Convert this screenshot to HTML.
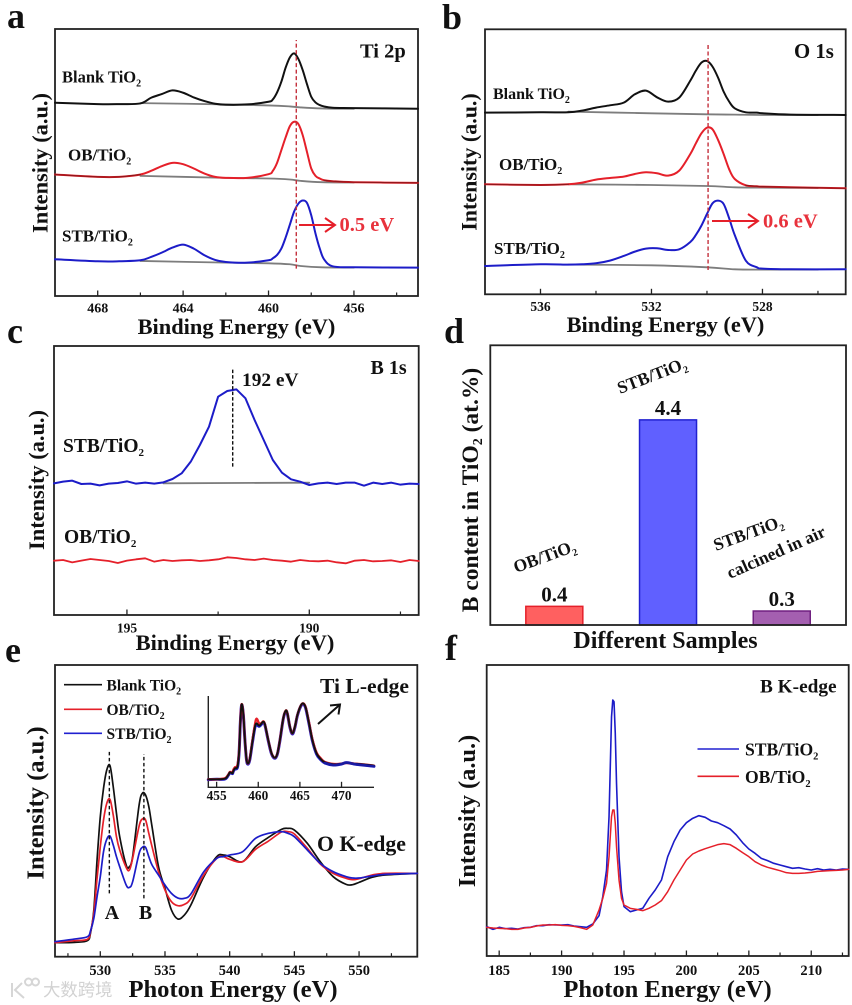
<!DOCTYPE html>
<html lang="en">
<head>
<meta charset="utf-8">
<title>Spectroscopy figure panels a-f</title>
<style>
html,body{margin:0;padding:0;background:#fff;width:852px;height:1005px;overflow:hidden}
svg{display:block;filter:blur(0.35px)}
text{font-family:"Liberation Serif","Noto Serif CJK SC",serif;font-weight:bold;fill:#111}
.wm{font-family:"Liberation Sans","Noto Sans CJK SC",sans-serif;font-weight:normal;fill:#d2d2d2}
</style>
</head>
<body>
<svg id="fig" xmlns="http://www.w3.org/2000/svg" width="852" height="1005" viewBox="0 0 852 1005">
<rect x="0" y="0" width="852" height="1005" fill="#fff"/>

<!-- panel letters -->
<text x="7" y="28" font-size="36">a</text>
<text x="442" y="29" font-size="36">b</text>
<text x="7" y="343" font-size="36">c</text>
<text x="444" y="343" font-size="36">d</text>
<text x="5" y="662" font-size="36">e</text>
<text x="445" y="660" font-size="36">f</text>

<!-- panel a -->
<g id="panel-a"></g>
<text transform="translate(47.5,163) rotate(-90)" text-anchor="middle" font-size="22.4">Intensity (a.u.)</text>
<text x="236.5" y="334" text-anchor="middle" font-size="22.4">Binding Energy (eV)</text>
<text x="360" y="57.5" font-size="20.5">Ti 2p</text>
<text x="62" y="82.5" font-size="16.5">Blank TiO<tspan dy="4" font-size="10">2</tspan></text>
<text x="68" y="160.5" font-size="17">OB/TiO<tspan dy="4" font-size="10">2</tspan></text>
<text x="62" y="241.5" font-size="17">STB/TiO<tspan dy="4" font-size="10">2</tspan></text>
<g fill="none" stroke="#e5202a" stroke-width="2"><path d="M299 225H335"/><path d="M325 218L335 225L325 232"/></g>
<text x="339.5" y="231" font-size="20.5" style="fill:#e8323c">0.5 eV</text>

<!-- panel b -->
<g id="panel-b"></g>
<text transform="translate(476.5,162) rotate(-90)" text-anchor="middle" font-size="22">Intensity (a.u.)</text>
<text x="665.5" y="332" text-anchor="middle" font-size="22.4">Binding Energy (eV)</text>
<text x="794" y="58" font-size="20.8">O 1s</text>
<text x="493" y="99" font-size="16">Blank TiO<tspan dy="4" font-size="10">2</tspan></text>
<text x="499" y="170" font-size="17">OB/TiO<tspan dy="4" font-size="10">2</tspan></text>
<text x="494" y="254" font-size="17">STB/TiO<tspan dy="4" font-size="10">2</tspan></text>
<g fill="none" stroke="#e5202a" stroke-width="2"><path d="M712 221H758"/><path d="M748 214L758 221L748 228"/></g>
<text x="763" y="227.5" font-size="20.5" style="fill:#e8323c">0.6 eV</text>

<!-- panel c -->
<g id="panel-c"></g>
<text transform="translate(44,480) rotate(-90)" text-anchor="middle" font-size="22.4">Intensity (a.u.)</text>
<text x="235" y="650" text-anchor="middle" font-size="22.5">Binding Energy (eV)</text>
<text x="370.5" y="374" font-size="20">B 1s</text>
<text x="242" y="386" font-size="19.4">192 eV</text>
<text x="63" y="452" font-size="19.5">STB/TiO<tspan dy="4" font-size="11">2</tspan></text>
<text x="64" y="543" font-size="19.5">OB/TiO<tspan dy="4" font-size="11">2</tspan></text>

<!-- panel d -->
<g id="panel-d"></g>
<text transform="translate(478,490) rotate(-90)" text-anchor="middle" font-size="23.5">B content in TiO<tspan dy="4" font-size="14">2</tspan><tspan dy="-4"> (at.%)</tspan></text>
<text x="665.5" y="648" text-anchor="middle" font-size="24">Different Samples</text>
<text transform="translate(516,573) rotate(-20)" font-size="17.5">OB/TiO<tspan dy="4" font-size="10">2</tspan></text>
<text transform="translate(620,394) rotate(-21)" font-size="17.5">STB/TiO<tspan dy="4" font-size="10">2</tspan></text>
<text transform="translate(716,551) rotate(-20)" font-size="17.5">STB/TiO<tspan dy="4" font-size="10">2</tspan></text>
<text transform="translate(730,579) rotate(-24)" font-size="17.5">calcined in air</text>

<!-- panel e -->
<g id="panel-e"></g>
<text transform="translate(43.5,803) rotate(-90)" text-anchor="middle" font-size="24.5">Intensity (a.u.)</text>
<text x="233" y="997" text-anchor="middle" font-size="24.6">Photon Energy (eV)</text>
<text x="320" y="693" font-size="21.6">Ti L-edge</text>
<text x="317" y="851" font-size="21.8">O K-edge</text>
<text x="112" y="919" text-anchor="middle" font-size="20">A</text>
<text x="145.5" y="919" text-anchor="middle" font-size="20">B</text>
<g>
<line x1="64" x2="102" y1="684.7" y2="684.7" stroke="#111" stroke-width="1.6"/>
<line x1="64" x2="102" y1="709.3" y2="709.3" stroke="#e5202a" stroke-width="1.6"/>
<line x1="64" x2="102" y1="733.3" y2="733.3" stroke="#2020d0" stroke-width="1.6"/>
<text x="106.5" y="690.5" font-size="15.5">Blank TiO<tspan dy="4" font-size="10">2</tspan></text>
<text x="106.5" y="715" font-size="15.5">OB/TiO<tspan dy="4" font-size="10">2</tspan></text>
<text x="106.5" y="739" font-size="15.5">STB/TiO<tspan dy="4" font-size="10">2</tspan></text>
</g>
<g fill="none" stroke="#111" stroke-width="2"><path d="M318 724L340 704.5"/><path d="M330 705.5L340 704.5L338.5 714.5"/></g>

<!-- panel f -->
<g id="panel-f"></g>
<text transform="translate(475,811) rotate(-90)" text-anchor="middle" font-size="24.4">Intensity (a.u.)</text>
<text x="667.5" y="997" text-anchor="middle" font-size="24.5">Photon Energy (eV)</text>
<text x="760" y="692.5" font-size="19.3">B K-edge</text>
<g>
<line x1="697.5" x2="739" y1="749" y2="749" stroke="#2020d0" stroke-width="1.6"/>
<line x1="697.5" x2="739" y1="776.3" y2="776.3" stroke="#e5202a" stroke-width="1.6"/>
<text x="745" y="755.5" font-size="17.6">STB/TiO<tspan dy="4" font-size="10.5">2</tspan></text>
<text x="745" y="783" font-size="17.6">OB/TiO<tspan dy="4" font-size="10.5">2</tspan></text>
</g>

<!-- watermark -->
<g fill="none" stroke="#d6d6d6" stroke-width="2">
<path d="M12 983V997M22 983L15 990L24 998M25 982a3.5 3.5 0 1 0 7 0a3.5 3.5 0 1 0 -7 0M32 982a3.5 3.5 0 1 0 7 0a3.5 3.5 0 1 0 -7 0"/>
<text class="wm" x="43" y="996" font-size="17.4" stroke="none">大数跨境</text>
</g>
</svg>

<script>
// ---------- panel a: Ti 2p ----------
const aEnergy = [470,468,467,466,465.5,465,464.5,464,463.5,463,462.5,462,461,460,459.8,459.6,459.4,459.2,459,458.8,458.6,458.4,458.2,458,457.8,457.6,457.4,457,456,453];
const aBlank = [579,575,575,577,594,605,616,609,595,584,576,573,574,582,589,610,642,684,715,727,710,677,635,597,580,572,568,564,563,561];
const aOB = [364,357,357,364,375,389,399,395,382,367,357,354,354,365,375,399,437,475,509,522,515,482,432,382,360,352,347,344,341,339];
const aSTB = [110,104,104,107,117,130,145,154,142,122,108,102,100,107,113,123,142,175,214,253,277,286,279,242,187,142,110,89,86,85];
const aBaseEnergy = [466,462,460,459,458.5,457.5,456];
const aBaseBlank = [578,574,571,568,565,562,561];
const aBaseOB = [360,354,352,349,345,341,340];
const aBaseSTB = [105,100,98,95,90,86,85];
const aMajorTicks = [468,464,460,456];
const aMinorTicks = [466,462,458,454];
const aGuideEnergy = [458.7];
const aGuideRange = [82,767];

// ---------- panel b: O 1s ----------
const bEnergy = [538,536,535,534.5,534,533.5,533,532.6,532.2,531.8,531.4,531,530.6,530.4,530.2,530,529.8,529.6,529.4,529.2,529,528.6,528.2,528,527,525];
const bBlank = [545,546,546,551,560,567,575,600,611,591,578,590,641,671,695,700,683,650,608,578,558,546,545,543,539,538];
const bOB = [330,328,330,335,344,349,353,361,366,363,356,371,421,453,483,500,495,463,421,375,346,327,324,323,321,318];
const bSTB = [85,90,89,90,93,101,115,128,137,138,133,135,157,178,206,241,273,281,271,228,178,101,81,77,75,75];
const bBaseEnergy = [535,532,530,529,528,526];
const bBaseBlank = [548,543,540,539,538,538];
const bBaseOB = [330,328,325,321,320,319];
const bBaseSTB = [89,87,81,75,74,74];
const bMajorTicks = [536,532,528];
const bMinorTicks = [534,530,526];
const bGuideEnergy = [529.96];
const bGuideRange = [73,748];

// ---------- panel c: B 1s ----------
const cEnergy = [197,196.75,196.5,196.25,196,195.75,195.5,195.25,195,194.75,194.5,194.25,194,193.75,193.5,193.25,193,192.75,192.5,192.25,192,191.75,191.5,191.25,191,190.75,190.5,190.25,190,189.75,189.5,189.25,189,188.75,188.5,188.25,188,187.75,187.5,187.25,187];
const cSTB = [395,400,403,393,394,389,394,396,401,394,397,394,398,408,425,460,510,565,655,672,677,650,585,525,465,427,407,400,390,395,397,393,397,397,388,397,393,397,391,394,393];
const cOB = [163,165,158,163,168,165,162,156,163,167,170,160,165,162,164,165,162,164,167,173,171,167,165,169,165,163,160,165,162,161,163,158,155,163,165,161,162,164,159,165,162];
const cBaseEnergy = [194,190];
const cBaseSTB = [395,397];
const cMajorTicks = [195,190];
const cMinorTicks = [192.5,187.5];
const cGuideEnergy = [192.1];
const cGuideRange = [445,737];

// ---------- panel d: boron content ----------
const dCategories = ['OB/TiO2','STB/TiO2','STB/TiO2 calcined in air'];
const dValues = [0.4,4.4,0.3];
const dValueLabels = ['0.4','4.4','0.3'];

// ---------- panel e: O K-edge ----------
const eEnergy = [526.5,528,529,529.25,529.5,529.75,530,530.25,530.5,530.75,531,531.25,531.5,532,532.25,532.5,533,533.25,533.5,533.75,534,534.5,535,535.5,536,536.5,537,538,539,539.5,540,541,542,543,544,544.5,545,546,547,548,549,549.5,550,551,552,554.5];
const eBlank = [42,43,48,72,140,290,420,505,560,573,510,430,360,275,270,300,455,490,485,450,390,270,205,140,113,125,155,240,300,305,300,285,330,358,382,385,380,340,285,240,217,216,223,238,245,250];
const eOB = [42,48,52,76,130,235,330,410,460,472,425,360,320,268,260,295,392,413,410,370,330,255,200,165,153,157,175,245,295,300,292,285,322,347,374,375,368,325,278,250,235,231,234,245,250,250];
const eSTB = [45,53,60,78,115,180,240,315,352,362,335,300,270,215,208,225,310,328,328,300,275,245,215,190,176,175,188,255,295,300,305,315,355,370,375,370,360,320,280,255,240,236,236,242,247,250];
const eMajorTicks = [530,535,540,545,550];
const eMinorTicks = [527.5,532.5,537.5,542.5,547.5,552.5];
const eGuideEnergyA = [530.7];
const eGuideRangeA = [190,620];
const eGuideEnergyB = [533.37];
const eGuideRangeB = [175,608];

// ---------- panel e inset: Ti L-edge ----------
const iEnergy = [454,455,456,456.4,456.6,456.9,457,457.2,457.5,457.7,457.85,458,458.2,458.4,458.6,458.8,459,459.3,459.6,459.8,460.1,460.4,460.6,460.8,461.2,461.6,462,462.3,462.6,463,463.3,463.5,463.8,464.1,464.4,464.7,465.1,465.4,465.7,466.1,466.5,467,467.5,468,469,470,470.6,471.5,472.5,473.9];
const iBlank = [24,24,26,37,45,42,49,57,62,107,197,249,222,142,82,72,87,137,182,192,185,192,197,189,142,102,89,102,142,207,230,222,182,162,182,217,245,252,239,192,142,102,85,75,69,71,73,71,69,65];
const iOB = [24,24,27,38,46,44,52,60,66,109,198,249,222,142,82,72,88,140,188,206,192,193,198,189,142,102,89,102,142,207,230,222,182,162,182,217,245,252,240,194,144,104,87,76,70,71,73,71,69,65];
const iSTB = [23,24,25,36,44,41,48,55,60,105,195,247,220,140,80,70,85,135,180,188,183,190,195,187,140,100,87,100,140,205,228,220,180,160,180,215,243,250,237,190,140,100,83,73,67,70,74,70,67,63];
const iMajorTicks = [455,460,465,470];

// ---------- panel f: B K-edge ----------
const fEnergy = [184,184.5,185,185.5,186,186.5,187,187.5,188,188.5,189,189.5,190,190.5,191,191.5,192,192.5,193,193.3,193.6,193.8,194,194.1,194.2,194.3,194.4,194.6,194.8,195,195.5,196,196.5,197,197.5,198,198.5,199,199.5,200,200.5,201,201.5,202,202.5,203,203.5,204,204.5,205,205.5,206,206.5,207,207.5,208,208.5,209,209.5,210,210.5,211,211.5,212,212.5,213];
const fSTB = [88,80,86,82,83,81,85,86,91,91,94,93,93,94,90,88,86,96,121,178,258,418,718,768,763,668,518,298,193,148,133,138,143,173,198,228,298,343,378,400,413,421,416,405,400,391,381,363,340,321,308,293,286,278,273,268,263,265,261,258,262,258,260,258,261,260];
const fOB = [86,84,83,82,80,80,84,86,90,93,93,94,92,91,89,85,80,93,138,173,218,298,418,438,438,398,328,228,173,153,143,140,136,143,153,166,193,228,258,288,306,315,322,328,334,337,334,323,310,298,283,273,266,261,256,250,248,248,249,251,254,255,256,257,258,260];
const fMajorTicks = [185,190,195,200,205,210];
const fMinorTicks = [187.5,192.5,197.5,202.5,207.5,212.5];

// ---------- colours ----------
const BLACK = '#111111', RED = '#e5202a', BLUE = '#1c1cc8', GRAY = '#7d7d7d', FRAME = '#222222';
const SVGNS = 'http://www.w3.org/2000/svg';

function node(parent, tag, attrs, name) {
  const el = document.createElementNS(SVGNS, tag);
  for (const k in attrs) el.setAttribute(k, attrs[k]);
  
  
  parent.appendChild(el);
  return el;
}
function xScale(p, v) { return p.x0 + (v - p.dom[0]) / (p.dom[1] - p.dom[0]) * (p.x1 - p.x0); }
function yScale(p, v) { return p.y1 - v / p.ymax * (p.y1 - p.y0); }

function curve(p, group, xs, ys, color, width, name, smooth, opacity) {
  const pts = xs.map((x, i) => [xScale(p, x), yScale(p, ys[i])]);
  let d = 'M' + pts[0][0].toFixed(2) + ' ' + pts[0][1].toFixed(2);
  for (let i = 0; i < pts.length - 1; i++) {
    if (smooth) {
      const a = pts[Math.max(i - 1, 0)], b = pts[i], c = pts[i + 1], e = pts[Math.min(i + 2, pts.length - 1)];
      const c1x = b[0] + (c[0] - a[0]) / 6, c1y = b[1] + (c[1] - a[1]) / 6;
      const c2x = c[0] - (e[0] - b[0]) / 6, c2y = c[1] - (e[1] - b[1]) / 6;
      d += 'C' + c1x.toFixed(2) + ' ' + c1y.toFixed(2) + ' ' + c2x.toFixed(2) + ' ' + c2y.toFixed(2) + ' ' + c[0].toFixed(2) + ' ' + c[1].toFixed(2);
    } else {
      d += 'L' + pts[i + 1][0].toFixed(2) + ' ' + pts[i + 1][1].toFixed(2);
    }
  }
  const attrs = {d: d, fill: 'none', stroke: color, 'stroke-width': width, 'stroke-linejoin': 'round', 'stroke-linecap': 'round'};
  if (opacity) attrs['stroke-opacity'] = opacity;
  return node(group, 'path', attrs, name);
}
function frame(p, group, name) {
  node(group, 'rect', {x: p.x0, y: p.y0, width: p.x1 - p.x0, height: p.y1 - p.y0, fill: 'none', stroke: FRAME, 'stroke-width': 1.8}, name);
}
function ticks(p, group, major, minor, labelY, fontSize, prefix) {
  major.forEach(v => {
    const x = xScale(p, v);
    node(group, 'line', {x1: x, x2: x, y1: p.y1, y2: p.y1 - 5.5, stroke: FRAME, 'stroke-width': 1.3}, prefix + '-major-tick');
    const t = node(group, 'text', {x: x, y: labelY, 'text-anchor': 'middle', 'font-size': fontSize}, prefix + '-tick-label');
    t.textContent = String(v);
  });
  minor.forEach(v => {
    const x = xScale(p, v);
    node(group, 'line', {x1: x, x2: x, y1: p.y1, y2: p.y1 - 3.5, stroke: FRAME, 'stroke-width': 1.2}, prefix + '-minor-tick');
  });
}
function guide(p, group, energy, range, color, name, dash) {
  const x = xScale(p, energy[0]);
  node(group, 'line', {x1: x, x2: x, y1: yScale(p, range[0]), y2: yScale(p, range[1]), stroke: color, 'stroke-width': 1.4, 'stroke-dasharray': dash}, name);
}

// panel a
const pa = {x0: 55, x1: 418, y0: 29, y1: 296, dom: [470, 453], ymax: 800};
const ga = document.getElementById('panel-a');
frame(pa, ga, 'a-frame');
ticks(pa, ga, aMajorTicks, aMinorTicks, 312.5, 14, 'a');
curve(pa, ga, aBaseEnergy, aBaseBlank, GRAY, 1.8, 'a-baseline-blank', true);
curve(pa, ga, aBaseEnergy, aBaseOB, GRAY, 1.8, 'a-baseline-ob', true);
curve(pa, ga, aBaseEnergy, aBaseSTB, GRAY, 1.8, 'a-baseline-stb', true);
curve(pa, ga, aEnergy, aBlank, BLACK, 2, 'a-series-blank', true);
curve(pa, ga, aEnergy, aOB, RED, 2, 'a-series-ob', true);
curve(pa, ga, aEnergy, aSTB, BLUE, 2, 'a-series-stb', true);
curve(pa, ga, aEnergy.slice(0, 4), aOB.slice(0, 4), '#5a1010', 1.2, 'a-tail-ob-left', true, 0.6);
curve(pa, ga, aEnergy.slice(-4), aOB.slice(-4), '#5a1010', 1.2, 'a-tail-ob-right', true, 0.6);
guide(pa, ga, aGuideEnergy, aGuideRange, '#c4303c', 'a-guide-line', '4 2.5');

// panel b
const pb = {x0: 485, x1: 845.7, y0: 29.3, y1: 294.3, dom: [538, 525], ymax: 795};
const gb = document.getElementById('panel-b');
frame(pb, gb, 'b-frame');
ticks(pb, gb, bMajorTicks, bMinorTicks, 311, 13.5, 'b');
curve(pb, gb, bBaseEnergy, bBaseBlank, GRAY, 1.8, 'b-baseline-blank', true);
curve(pb, gb, bBaseEnergy, bBaseOB, GRAY, 1.8, 'b-baseline-ob', true);
curve(pb, gb, bBaseEnergy, bBaseSTB, GRAY, 1.8, 'b-baseline-stb', true);
curve(pb, gb, bEnergy, bBlank, BLACK, 2, 'b-series-blank', true);
curve(pb, gb, bEnergy, bOB, RED, 2, 'b-series-ob', true);
curve(pb, gb, bEnergy, bSTB, BLUE, 2, 'b-series-stb', true);
curve(pb, gb, bEnergy.slice(0, 3), bOB.slice(0, 3), '#5a1010', 1.2, 'b-tail-ob-left', true, 0.6);
curve(pb, gb, bEnergy.slice(-5), bOB.slice(-5), '#5a1010', 1.2, 'b-tail-ob-right', true, 0.6);
guide(pb, gb, bGuideEnergy, bGuideRange, '#c4303c', 'b-guide-line', '4 2.5');

// panel c
const pc = {x0: 54, x1: 418.7, y0: 346, y1: 615, dom: [197, 187], ymax: 807};
const gc = document.getElementById('panel-c');
frame(pc, gc, 'c-frame');
ticks(pc, gc, cMajorTicks, cMinorTicks, 632.5, 13.5, 'c');
curve(pc, gc, cBaseEnergy, cBaseSTB, GRAY, 1.8, 'c-baseline-stb', false);
curve(pc, gc, cEnergy, cSTB, BLUE, 2, 'c-series-stb', false);
curve(pc, gc, cEnergy, cOB, RED, 1.8, 'c-series-ob', false);
guide(pc, gc, cGuideEnergy, cGuideRange, '#111', 'c-guide-line', '3.5 2');

// panel d
const pd = {x0: 490.3, x1: 846, y0: 345.3, y1: 625, dom: [-0.563, 2.565], ymax: 6};
const gd = document.getElementById('panel-d');
const dFill = ['#ff6060', '#6060ff', '#a45fb0'];
const dStroke = ['#e5202a', '#2020d0', '#702080'];
dValues.forEach((v, i) => {
  const cx = xScale(pd, i);
  const top = yScale(pd, v);
  const bar = document.createElementNS(SVGNS, 'rect');
  bar.setAttribute('x', cx - 28.5);
  bar.setAttribute('y', top);
  bar.setAttribute('width', 57);
  bar.setAttribute('height', pd.y1 - top);
  bar.setAttribute('fill', dFill[i]);
  bar.setAttribute('stroke', dStroke[i]);
  bar.setAttribute('stroke-width', 1.5);
  
  
  gd.appendChild(bar);
  const t = document.createElementNS(SVGNS, 'text');
  t.setAttribute('x', cx);
  t.setAttribute('y', top - 4.8);
  t.setAttribute('text-anchor', 'middle');
  t.setAttribute('font-size', 21);
  
  
  t.textContent = dValueLabels[i];
  gd.appendChild(t);
});
frame(pd, gd, 'd-frame');

// panel e
const pe = {x0: 55, x1: 417.3, y0: 665, y1: 956.7, dom: [526.5, 554.5], ymax: 875};
const ge = document.getElementById('panel-e');
frame(pe, ge, 'e-frame');
ticks(pe, ge, eMajorTicks, eMinorTicks, 975, 14.5, 'e');
curve(pe, ge, eEnergy, eBlank, BLACK, 1.7, 'e-series-blank', true);
curve(pe, ge, eEnergy, eOB, RED, 1.7, 'e-series-ob', true);
curve(pe, ge, eEnergy, eSTB, BLUE, 1.7, 'e-series-stb', true);
guide(pe, ge, eGuideEnergyA, eGuideRangeA, '#111', 'e-guide-a', '3.5 2.5');
guide(pe, ge, eGuideEnergyB, eGuideRangeB, '#111', 'e-guide-b', '3.5 2.5');

// inset
const pi = {x0: 208.3, x1: 374, y0: 696, y1: 787.3, dom: [454, 473.9], ymax: 274};
const gi = node(ge, 'g', {}, 'e-inset');
node(gi, 'path', {d: 'M' + pi.x0 + ' ' + pi.y0 + 'V' + pi.y1 + 'H' + pi.x1, fill: 'none', stroke: FRAME, 'stroke-width': 1.4}, 'inset-axes');
ticks(pi, gi, iMajorTicks, [], 800, 13.3, 'inset');
curve(pi, gi, iEnergy, iSTB, BLUE, 3, 'inset-series-stb', true);
curve(pi, gi, iEnergy, iOB, RED, 2.4, 'inset-series-ob', true);
curve(pi, gi, iEnergy, iBlank, BLACK, 1.9, 'inset-series-blank', true);
curve(pi, gi, iEnergy.slice(-7), iSTB.slice(-7), '#1a1aa0', 2.4, 'inset-tail-stb', true);

// panel f
const pf = {x0: 486.7, x1: 848.7, y0: 665, y1: 956, dom: [184, 213], ymax: 873};
const gf = document.getElementById('panel-f');
frame(pf, gf, 'f-frame');
ticks(pf, gf, fMajorTicks, fMinorTicks, 975, 14.5, 'f');
curve(pf, gf, fEnergy, fSTB, BLUE, 1.6, 'f-series-stb', false);
curve(pf, gf, fEnergy, fOB, RED, 1.5, 'f-series-ob', false);
</script>
</body>
</html>
